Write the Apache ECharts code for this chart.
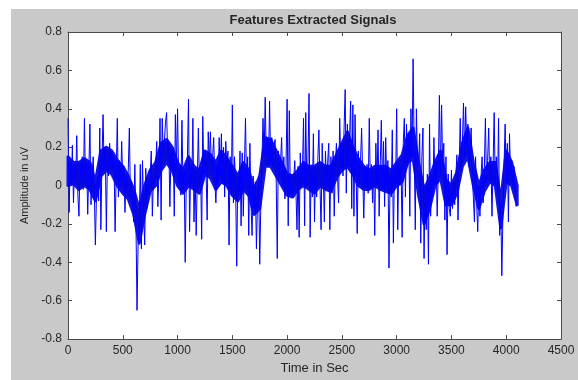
<!DOCTYPE html>
<html>
<head>
<meta charset="utf-8">
<script src="https://cdn.jsdelivr.net/npm/echarts@6/dist/echarts.min.js"></script>
<style>
  html, body { margin: 0; padding: 0; background: #fff; }
  #chart { position: absolute; left: 11px; top: 9px; width: 567px; height: 371px; }
</style>
</head>
<body>
<div id="chart"></div>
<script>
// signal, one value every 10 s
const step = 10
const ampPart1 = [
  0.35, -0.14, 0.12, 0.01, 0.21, -0.09, 0.10, 0.03, 0.26, -0.05,
  -0.16, 0.12, 0.02, 0.15, -0.02, 0.35, 0.00, 0.12, -0.15, 0.08,
  0.32, -0.10, 0.05, 0.15, -0.03, -0.31, -0.05, 0.05, -0.08, 0.30,
  -0.23, 0.12, 0.37, 0.08, 0.20, -0.24, 0.15, 0.05, 0.22, 0.10,
  0.18, 0.08, 0.14, -0.24, 0.06, 0.35, -0.06, 0.13, 0.00, 0.23,
  0.02, 0.10, -0.14, 0.06, -0.02, 0.08, 0.30, -0.07, 0.02, -0.09,
  -0.19, 0.11, -0.18, -0.65, -0.30, -0.20, 0.11, -0.33, 0.13, -0.12,
  -0.31, 0.09, -0.12, 0.03, -0.05, 0.05, 0.18, -0.16, 0.04, 0.00,
  0.10, 0.23, -0.11, 0.06, 0.35, -0.18, 0.35, 0.15, 0.23, 0.33,
  0.38, 0.15, 0.22, -0.11, 0.17, 0.08, 0.20, -0.16, 0.37, 0.10,
  0.40, 0.02, 0.10, -0.05, 0.34, -0.02, 0.08, -0.40, 0.05, 0.15,
  0.45, -0.24, 0.10, 0.01, 0.35, -0.19, 0.08, -0.26, 0.03, 0.30,
  0.00, 0.10, -0.28, 0.36, 0.06, 0.18, 0.08, -0.18, 0.28, 0.12,
  0.28, 0.06, 0.15, 0.25, 0.02, -0.09, 0.10, 0.00, 0.25, 0.05
]
const ampPart2 = [
  0.27, 0.01, 0.20, -0.06, 0.23, 0.10, 0.18, -0.31, 0.15, -0.05,
  0.42, -0.09, 0.15, 0.00, -0.42, 0.05, -0.05, 0.18, -0.21, 0.17,
  -0.16, 0.08, 0.35, 0.01, 0.15, -0.26, 0.22, -0.09, -0.26, 0.05,
  -0.12, 0.02, -0.33, -0.08, 0.05, -0.41, -0.10, 0.13, 0.35, 0.15,
  0.46, 0.15, 0.25, 0.10, 0.44, 0.12, 0.25, 0.10, 0.20, 0.24,
  0.05, -0.38, 0.18, 0.05, 0.12, 0.25, 0.00, 0.15, -0.07, 0.10,
  0.45, -0.21, 0.39, -0.05, 0.06, -0.06, 0.03, 0.13, -0.02, -0.23,
  0.10, -0.27, 0.17, 0.00, 0.08, 0.35, -0.21, 0.38, 0.00, 0.10,
  0.48, -0.27, 0.08, -0.06, 0.27, -0.19, 0.10, -0.06, 0.13, 0.29,
  0.00, -0.23, 0.22, 0.05, -0.19, 0.18, 0.00, 0.12, 0.22, -0.23,
  0.15, -0.04, 0.18, -0.16, 0.10, 0.22, 0.05, -0.09, 0.35, 0.12,
  0.22, 0.05, 0.30, 0.50, -0.04, 0.32, 0.10, 0.25, 0.44, -0.12,
  0.42, -0.16, 0.37, 0.05, -0.25, 0.18, 0.01, 0.12, 0.30, 0.05,
  -0.17, 0.10, 0.00, 0.11, -0.04, 0.35, 0.00, 0.11, -0.09, 0.08
]
const ampPart3 = [
  -0.26, 0.22, 0.00, 0.29, -0.16, 0.11, 0.34, -0.02, 0.23, -0.11,
  0.25, 0.00, 0.13, -0.43, 0.05, -0.06, 0.29, -0.30, 0.10, 0.00,
  0.40, -0.23, 0.13, 0.00, 0.10, -0.27, 0.22, 0.35, -0.06, 0.32,
  0.10, 0.27, -0.16, 0.40, 0.15, 0.66, 0.18, -0.23, 0.40, 0.12,
  0.10, 0.27, -0.30, 0.15, 0.30, -0.38, 0.00, -0.23, 0.06, -0.41,
  0.32, -0.16, 0.06, -0.05, 0.25, 0.00, 0.13, -0.16, 0.08, 0.47,
  0.05, 0.42, 0.10, 0.22, -0.18, 0.15, -0.36, 0.06, -0.12, -0.16,
  0.08, -0.12, 0.02, -0.10, 0.05, 0.16, -0.18, 0.08, 0.35, 0.08,
  0.22, 0.43, 0.15, 0.41, 0.20, 0.32, 0.10, 0.18, 0.30, 0.05,
  -0.06, -0.19, 0.15, -0.09, -0.24, 0.00, -0.16, 0.05, 0.15, -0.09,
  0.08, 0.35, 0.01, 0.13, 0.30, 0.02, 0.15, -0.16, 0.10, 0.38,
  0.00, 0.15, -0.05, 0.35, -0.26, -0.09, -0.47, -0.15, 0.10, 0.32,
  0.01, 0.22, -0.19, 0.27, 0.05, 0.13, -0.02, 0.10, -0.02, -0.11
]

// dense dark core of the trace (lower / upper edge), one value every 50 s
const coreStep = 50
const coreLow = [
  0.00, 0.01, -0.02, 0.00, -0.02, -0.08, 0.05, 0.08, 0.06, 0.00,
  -0.04, -0.07, -0.15, -0.30, -0.15, -0.03, 0.00, 0.08, 0.12, 0.08,
  0.00, -0.04, 0.00, -0.02, -0.04, 0.06, 0.04, -0.02, 0.02, 0.00,
  -0.05, -0.08, -0.02, -0.05, -0.15, -0.12, 0.10, 0.10, 0.05, 0.00,
  -0.05, -0.06, -0.02, 0.00, -0.02, -0.04, 0.00, -0.02, -0.03, 0.04,
  0.08, 0.10, 0.06, 0.00, -0.02, -0.02, 0.00, -0.02, -0.03, -0.04,
  0.00, 0.02, 0.12, 0.14, -0.05, -0.20, -0.12, 0.00, 0.04, -0.10,
  -0.10, -0.04, 0.10, 0.15, 0.00, -0.12, -0.03, 0.02, 0.00, -0.22,
  0.02, 0.00, -0.10
]
const coreHigh = [
  0.15, 0.12, 0.12, 0.14, 0.12, 0.02, 0.18, 0.20, 0.18, 0.13,
  0.10, 0.05, -0.02, -0.12, 0.00, 0.08, 0.12, 0.22, 0.24, 0.20,
  0.12, 0.08, 0.15, 0.10, 0.08, 0.18, 0.16, 0.12, 0.18, 0.14,
  0.10, 0.05, 0.12, 0.08, -0.02, 0.05, 0.25, 0.24, 0.18, 0.12,
  0.06, 0.05, 0.08, 0.12, 0.10, 0.10, 0.12, 0.10, 0.10, 0.16,
  0.22, 0.28, 0.20, 0.14, 0.10, 0.08, 0.10, 0.10, 0.10, 0.08,
  0.12, 0.16, 0.26, 0.30, 0.12, -0.02, 0.04, 0.12, 0.18, 0.03,
  0.00, 0.07, 0.22, 0.30, 0.12, 0.00, 0.08, 0.12, 0.12, -0.08,
  0.18, 0.12, 0.00
]
const xTicks = [0, 4500, 500]
const yTicks = [-0.8, 0.8, 0.2]

const font = "'Liberation Sans', Arial, sans-serif"
const amp = ampPart1.concat(ampPart2, ampPart3)
const signal = amp.map((v, i) => [i * step, v])
const core = coreLow.map((v, i) => [i * coreStep, v, coreHigh[i]])

const axisColor = '#4a4a4a'
const textColor = '#262626'
const boxLine = { show: true, onZero: false, lineStyle: { color: axisColor, width: 1 } }
const boxTick = { inside: true, length: 4, lineStyle: { color: axisColor } }

// band between the lower and upper core edge, drawn as one polygon
const renderCore = (params, api) => {
  if (params.dataIndex !== 0) return
  let upper = core.map((d) => api.coord([d[0], d[2]]))
  let lower = core.map((d) => api.coord([d[0], d[1]])).reverse()
  return {
    type: 'polygon',
    shape: { points: upper.concat(lower) },
    style: { fill: '#0b0bd8', stroke: '#1414e0', lineWidth: 3, lineJoin: 'round' }
  }
}

let myChart = echarts.init(document.getElementById('chart'))
let option = {
  backgroundColor: '#c9c9c9',
  animation: false,
  grid: {
    left: 57,
    right: 17,
    top: 23,
    bottom: 35,
    show: true,
    backgroundColor: '#ffffff',
    borderWidth: 0
  },
  graphic: [{
    type: 'text',
    x: 302,
    y: 11,
    style: {
      text: 'Features Extracted Signals',
      font: 'bold 13px ' + font,
      fill: textColor,
      align: 'center',
      verticalAlign: 'middle'
    }
  }],
  xAxis: [{
    type: 'value',
    min: xTicks[0],
    max: xTicks[1],
    interval: xTicks[2],
    name: 'Time in Sec',
    nameLocation: 'middle',
    nameGap: 20,
    nameTextStyle: { color: textColor, fontSize: 13, fontFamily: font },
    axisLine: boxLine,
    axisTick: boxTick,
    axisLabel: { color: textColor, fontSize: 12, fontFamily: font, margin: 6, formatter: (v) => String(v) },
    splitLine: { show: false }
  }, {
    type: 'value',
    position: 'top',
    min: xTicks[0],
    max: xTicks[1],
    interval: xTicks[2],
    axisLine: boxLine,
    axisTick: boxTick,
    axisLabel: { show: false },
    splitLine: { show: false }
  }],
  yAxis: [{
    type: 'value',
    min: yTicks[0],
    max: yTicks[1],
    interval: yTicks[2],
    name: 'Amplitude in uV',
    nameLocation: 'middle',
    nameGap: 38,
    nameTextStyle: { color: textColor, fontSize: 11, fontFamily: font },
    axisLine: boxLine,
    axisTick: boxTick,
    axisLabel: { color: textColor, fontSize: 12, fontFamily: font, margin: 6 },
    splitLine: { show: false }
  }, {
    type: 'value',
    position: 'right',
    min: yTicks[0],
    max: yTicks[1],
    interval: yTicks[2],
    axisLine: boxLine,
    axisTick: boxTick,
    axisLabel: { show: false },
    splitLine: { show: false }
  }],
  series: [{
    type: 'custom',
    data: core,
    encode: { x: 0, y: [1, 2] },
    renderItem: renderCore,
    silent: true
  }, {
    type: 'line',
    data: signal,
    showSymbol: false,
    lineStyle: { color: '#0000ff', width: 1 }
  }]
}
myChart.setOption(option)
</script>
</body>
</html>
